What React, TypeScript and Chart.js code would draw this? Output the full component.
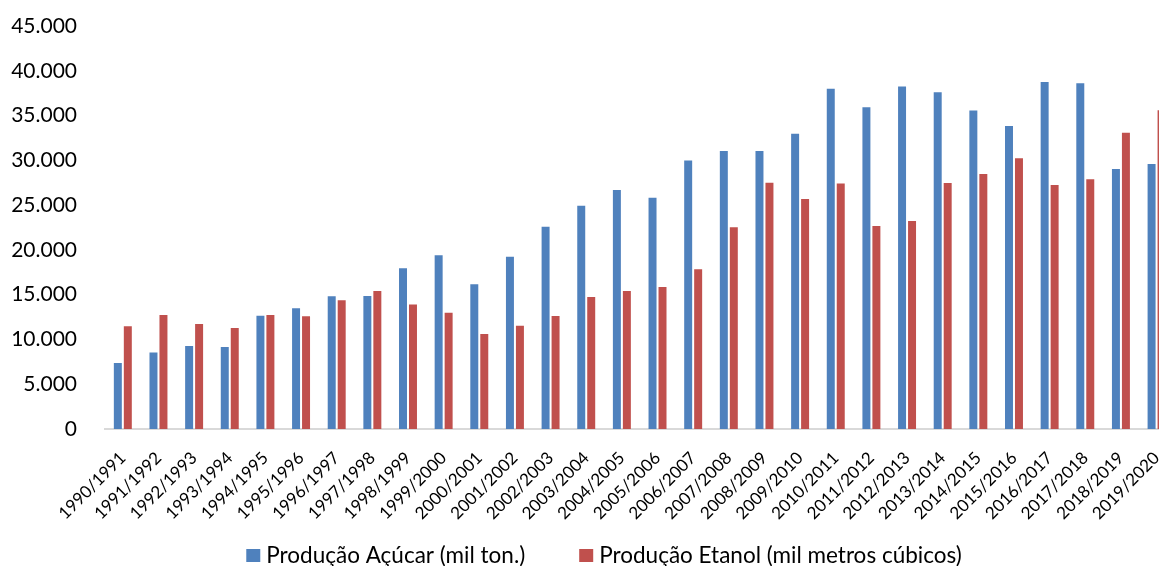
import React, { useEffect, useRef } from "react";
import { Chart, registerables } from "chart.js";

Chart.register(...registerables);

const categories = [
  "1990/1991", "1991/1992", "1992/1993", "1993/1994", "1994/1995", "1995/1996",
  "1996/1997", "1997/1998", "1998/1999", "1999/2000", "2000/2001", "2001/2002",
  "2002/2003", "2003/2004", "2004/2005", "2005/2006", "2006/2007", "2007/2008",
  "2008/2009", "2009/2010", "2010/2011", "2011/2012", "2012/2013", "2013/2014",
  "2014/2015", "2015/2016", "2016/2017", "2017/2018", "2018/2019", "2019/2020",
];

const acucar = [
  7365, 8530, 9260, 9170, 12650, 13480, 14820, 14850, 17960, 19390,
  16170, 19220, 22570, 24920, 26690, 25810, 29980, 31030, 31050, 32960,
  38000, 35930, 38250, 37600, 35560, 33840, 38750, 38600, 29040, 29600,
];

const etanol = [
  11480, 12720, 11720, 11280, 12730, 12590, 14380, 15400, 13890, 12990,
  10610, 11520, 12620, 14740, 15410, 15860, 17840, 22530, 27510, 25690,
  27400, 22680, 23230, 27470, 28480, 30230, 27250, 27880, 33090, 35600,
];

const seriesNames = ["Produção Açúcar (mil ton.)", "Produção Etanol (mil metros cúbicos)"];
const seriesColors = ["#4F81BD", "#C0504D"];
const yTicks = { min: 0, max: 45000, step: 5000 };

const FONT = "Lato, 'Noto Sans', sans-serif";
const CANVAS_W = 1190;
const CANVAS_H = 566;

function fmt(v: number): string {
  return String(v).replace(/\B(?=(\d{3})+(?!\d))/g, ".");
}

// Bottom legend drawn from the chart's own datasets
const bottomLegend = {
  id: "bottomLegend",
  afterDraw(chart: any) {
    const ctx = chart.ctx;
    const font = `22.5px ${FONT}`;
    const boxW = 14;
    const boxH = 13;
    const boxGap = 6;
    const itemGap = 54;
    const cy = 555.5;
    const centerX = 604;
    ctx.save();
    ctx.font = font;
    const items = chart.data.datasets.map((ds: any) => ({
      text: ds.label as string,
      color: ds.backgroundColor as string,
      w: boxW + boxGap + ctx.measureText(ds.label).width,
    }));
    const total = items.reduce((s: number, it: any) => s + it.w, 0) + itemGap * (items.length - 1);
    let x = centerX - total / 2;
    ctx.textBaseline = "middle";
    ctx.textAlign = "left";
    items.forEach((it: any) => {
      ctx.fillStyle = it.color;
      ctx.fillRect(x, cy - boxH / 2, boxW, boxH);
      ctx.fillStyle = "#000";
      ctx.fillText(it.text, x + boxW + boxGap, cy);
      x += it.w + itemGap;
    });
    ctx.restore();
  },
};

export default function App() {
  const ref = useRef<HTMLCanvasElement | null>(null);

  useEffect(() => {
    if (!ref.current) return;
    const chart = new Chart(ref.current, {
      type: "bar",
      data: {
        labels: categories,
        datasets: [
          {
            label: seriesNames[0],
            data: acucar,
            backgroundColor: seriesColors[0],
            borderWidth: 0,
            categoryPercentage: 0.56,
            barPercentage: 0.8,
          },
          {
            label: seriesNames[1],
            data: etanol,
            backgroundColor: seriesColors[1],
            borderWidth: 0,
            categoryPercentage: 0.56,
            barPercentage: 0.8,
          },
        ],
      },
      plugins: [bottomLegend],
      options: {
        animation: false,
        responsive: false,
        devicePixelRatio: 1,
        layout: { padding: { top: 26, left: 0, right: 0, bottom: 0 } },
        plugins: {
          tooltip: { enabled: false },
          legend: { display: false },
        },
        scales: {
          x: {
            grid: { display: false, drawTicks: false },
            border: { display: true, color: "#d9d9d9", width: 2 },
            ticks: {
              color: "#000",
              font: { family: FONT, size: 17 },
              minRotation: 45,
              maxRotation: 45,
              autoSkip: false,
              padding: 19,
            },
            afterFit: (scale: any) => {
              scale.height = 137;
            },
          },
          y: {
            min: yTicks.min,
            max: yTicks.max,
            grid: { display: false, drawTicks: true, tickLength: 28 },
            border: { display: false },
            ticks: {
              stepSize: yTicks.step,
              color: "#000",
              font: { family: FONT, size: 21 },
              padding: 0,
              callback: (v: any) => fmt(Number(v)),
            },
            afterFit: (scale: any) => {
              scale.width = 105;
            },
          },
        },
      },
    });
    return () => chart.destroy();
  }, []);

  return (
    <div
      style={{
        position: "fixed",
        left: 0,
        top: 0,
        width: 1159,
        height: 566,
        overflow: "hidden",
        background: "#fff",
      }}
    >
      <canvas
        ref={ref}
        width={CANVAS_W}
        height={CANVAS_H}
        style={{ width: CANVAS_W, height: CANVAS_H, display: "block" }}
      />
    </div>
  );
}
